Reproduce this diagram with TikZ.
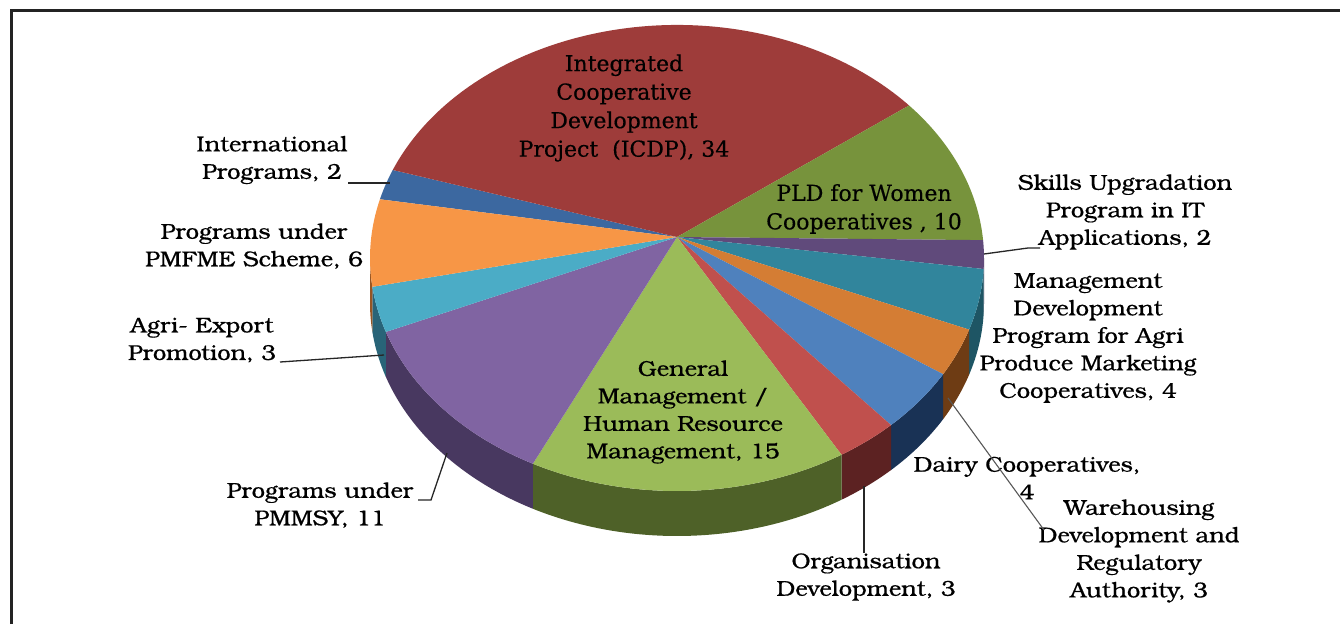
\documentclass[tikz,border=0pt]{standalone}
\usepackage{fontspec}
\newfontfamily\bonum{texgyrebonum}[Extension=.otf, UprightFont=*-regular, FakeStretch=1.1, FakeBold=0.6]
\newfontfamily\dvs{DejaVu Serif}[FakeBold=0.4]
\definecolor{cIntl}{RGB}{60,104,160}
\definecolor{cIcdp}{RGB}{158,60,58}
\definecolor{cPld}{RGB}{119,147,60}
\definecolor{cSkills}{RGB}{96,74,123}
\definecolor{cMdp}{RGB}{49,133,156}
\definecolor{cWare}{RGB}{212,125,52}
\definecolor{cDairy}{RGB}{79,129,189}
\definecolor{cOrg}{RGB}{192,80,77}
\definecolor{cGen}{RGB}{155,187,89}
\definecolor{cPmmsy}{RGB}{128,100,162}
\definecolor{cAgri}{RGB}{75,172,198}
\definecolor{cPmfme}{RGB}{247,150,70}
\definecolor{sSkills}{RGB}{60,45,80}
\definecolor{sMdp}{RGB}{30,85,100}
\definecolor{sWare}{RGB}{110,60,20}
\definecolor{sDairy}{RGB}{25,50,85}
\definecolor{sOrg}{RGB}{92,34,34}
\definecolor{sGen}{RGB}{78,97,40}
\definecolor{sPmmsy}{RGB}{72,56,96}
\definecolor{sAgri}{RGB}{40,100,120}
\definecolor{sPmfme}{RGB}{150,85,35}
\definecolor{frame}{RGB}{35,35,35}
\newcommand\topslice[3]{%
  \fill[#1] (apex) -- ({677+307*cos(#2)},{258+233*sin(#2)})
    arc[start angle=#2, end angle=#3, x radius=307, y radius=233] -- cycle;}
\newcommand\sideslice[3]{%
  \fill[#1] ({677+307*cos(#2)},{258+233*sin(#2)})
    arc[start angle=#2, end angle=#3, x radius=307, y radius=233] -- ++(0,45)
    arc[start angle=#3, end angle=#2, x radius=307, y radius=233] -- cycle;}
\tikzset{
  lbl/.style={align=center, font=\bonum\fontsize{21.5}{27.5}\selectfont, inner sep=0pt, text=black},
  inlbl/.style={align=center, font=\dvs\fontsize{22}{28.5}\selectfont, inner sep=0pt, text=black},
  lead/.style={line width=1.3pt, black!85},
  leadgray/.style={line width=1.1pt, black!65}
}
\begin{document}
\begin{tikzpicture}[x=1pt,y=-1pt]
\useasboundingbox (0,0) rectangle (1340,624);
\fill[white] (0,0) rectangle (1340,624);
\draw[line width=3pt, frame] (11,624) -- (11,10) -- (1340,10);
\coordinate (apex) at (677,237);
% side faces
\sideslice{sSkills}{0}{2.7}
\sideslice{sMdp}{2.7}{17.9}
\sideslice{sWare}{17.9}{29.9}
\sideslice{sDairy}{29.9}{45.8}
\sideslice{sOrg}{45.8}{57.6}
\sideslice{sGen}{57.6}{118}
\sideslice{sPmmsy}{118}{161.5}
\sideslice{sAgri}{161.5}{172.9}
\sideslice{sPmfme}{172.9}{180}
% top faces
\topslice{cIntl}{194.6}{202.2}
\topslice{cIcdp}{202.2}{319.1}
\topslice{cPld}{-40.9}{-4.4}
\topslice{cSkills}{-4.4}{2.7}
\topslice{cMdp}{2.7}{17.9}
\topslice{cWare}{17.9}{29.9}
\topslice{cDairy}{29.9}{45.8}
\topslice{cOrg}{45.8}{57.6}
\topslice{cGen}{57.6}{118}
\topslice{cPmmsy}{118}{161.5}
\topslice{cAgri}{161.5}{172.9}
\topslice{cPmfme}{172.9}{194.6}
% labels
\node[inlbl] (icdp) at (624,108) {Integrated\\Cooperative\\Development\\Project~~(ICDP), 34};
\node[inlbl] (pld) at (864,209) {PLD for Women\\Cooperatives , 10};
\node[lbl] (gen) at (683,412) {General\\Management /\\Human Resource\\Management, 15};
\node[lbl] (intl) at (272,160) {International\\Programs, 2};
\node[lbl] (pmfme) at (254,246) {Programs under\\PMFME Scheme, 6};
\node[lbl] (agri) at (202,340) {Agri- Export\\Promotion, 3};
\node[lbl] (pmmsy) at (320,505) {Programs under\\PMMSY, 11};
\node[lbl] (org) at (866,577) {Organisation\\Development, 3};
\node[lbl] (dairy) at (1027,478) {Dairy Cooperatives,\\4};
\node[lbl] (ware) at (1139,551) {Warehousing\\Development and\\Regulatory\\Authority, 3};
\node[lbl] (mdp) at (1088,338) {Management\\Development\\Program for Agri\\Produce Marketing\\Cooperatives, 4};
\node[lbl] (skills) at (1125,212) {Skills Upgradation\\Program in IT\\Applications, 2};
% leader lines
\coordinate (intlA) at (348,183);
\coordinate (intlB) at (390,183);
\coordinate (skA) at (984,254);
\coordinate (skB) at (1028,248);
\coordinate (skC) at (1040,248);
\coordinate (agA) at (280,362);
\coordinate (agB) at (384,355);
\coordinate (pmA) at (418,500);
\coordinate (pmB) at (431,500);
\coordinate (pmC) at (447,453);
\coordinate (orA) at (864,486);
\coordinate (orB) at (864,553);
\coordinate (waA) at (948,398);
\coordinate (waB) at (1044,530);
\draw[lead] (intlA) -- (intlB);
\draw[lead] (skA) -- (skB) -- (skC);
\draw[lead] (agA) -- (agB);
\draw[lead] (pmA) -- (pmB) -- (pmC);
\draw[lead] (orA) -- (orB);
\draw[leadgray] (waA) -- (waB);
\end{tikzpicture}
\end{document}
